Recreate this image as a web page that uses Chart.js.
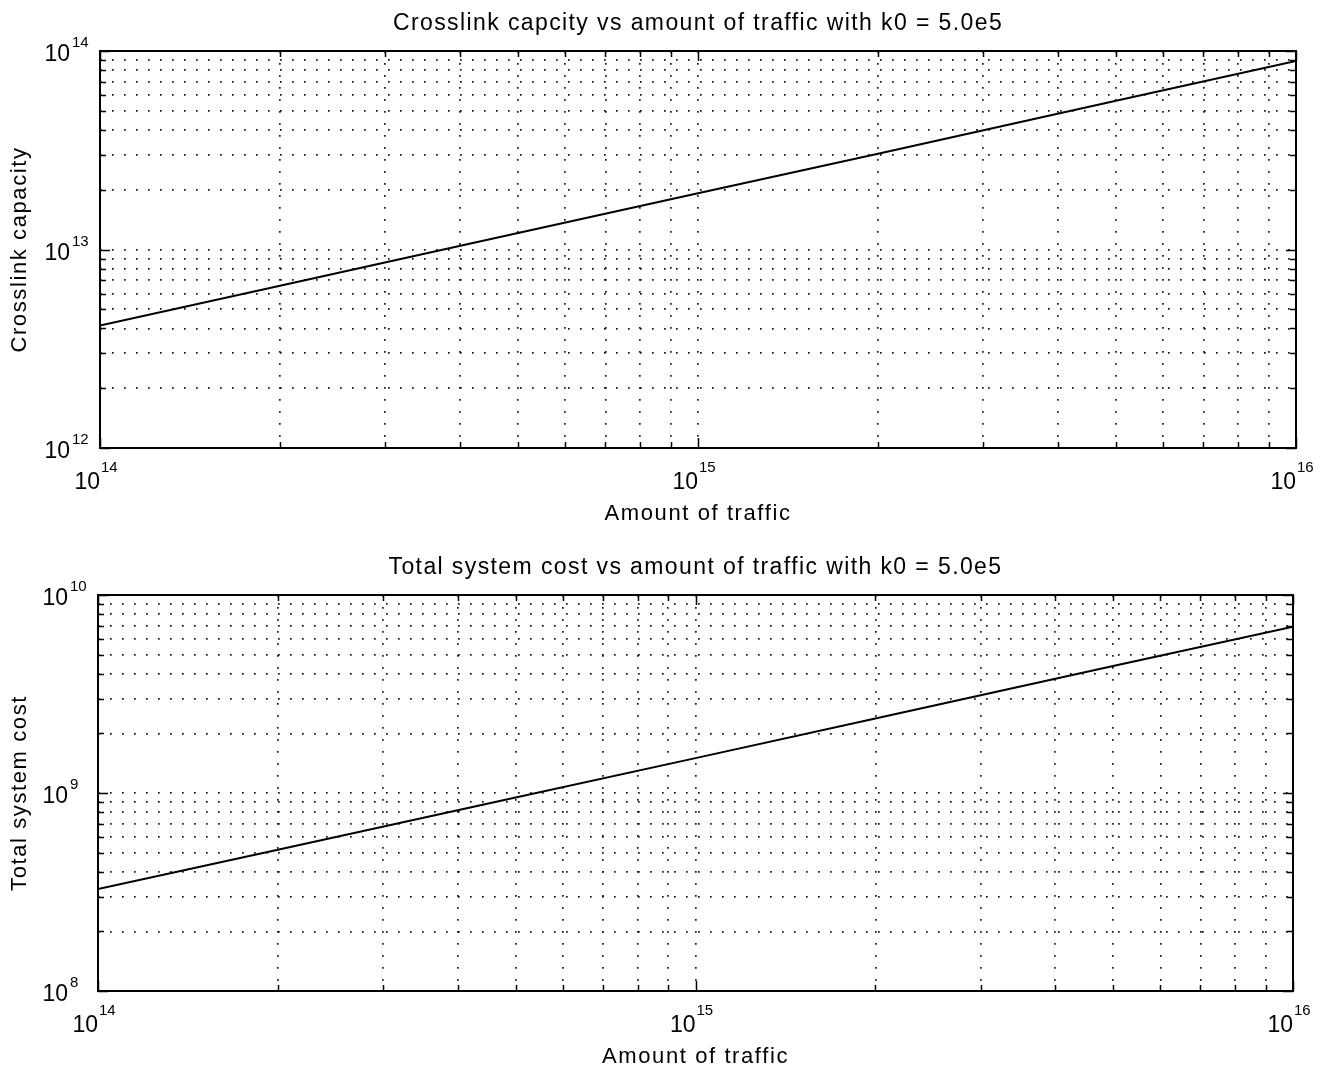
<!DOCTYPE html>
<html>
<head>
<meta charset="utf-8">
<script src="https://cdn.jsdelivr.net/npm/chart.js@4.4.1/dist/chart.umd.min.js"></script>
<style>
  html, body { margin: 0; padding: 0; background: #ffffff; }
  #wrap { position: relative; width: 1336px; height: 1072px; }
  .panel { position: absolute; left: 0; width: 1336px; height: 536px; }
</style>
</head>
<body>
<div id="wrap">
  <div class="panel" style="top:0px"><canvas id="capacityChart"></canvas></div>
  <div class="panel" style="top:536px"><canvas id="costChart"></canvas></div>
</div>
<script>
// Traffic sweep and the two computed quantities (k0 = 5.0e5)
const traffic = [1e14, 2e14, 5e14, 1e15, 2e15, 5e15, 1e16];
const crosslinkCapacity = [4.14e12, 6.56e12, 1.21e13, 1.92e13, 3.04e13, 5.61e13, 8.9e13];
const totalSystemCost = [3.27e8, 5.17e8, 9.5e8, 1.5e9, 2.38e9, 4.38e9, 6.92e9];

// Decade exponents used for the axis labels
const trafficTickExponents = [14, 15, 16];
const capacityTickExponents = [12, 13, 14];
const costTickExponents = [8, 9, 10];

const FONT = '"Liberation Sans", Arial, Helvetica, sans-serif';
const INK = '#000000';

// 1..9 x 10^e for every decade, plus the last decade itself
function decadeTicks(exps) {
  const out = [];
  for (let i = 0; i < exps.length - 1; i++) {
    for (let m = 1; m <= 9; m++) out.push({ value: m * Math.pow(10, exps[i]), major: m === 1 });
  }
  out.push({ value: Math.pow(10, exps[exps.length - 1]), major: true });
  return out;
}

function spacedText(ctx, text, x, y, align, spacing) {
  ctx.save();
  if ('letterSpacing' in ctx) ctx.letterSpacing = spacing + 'px';
  ctx.textAlign = align;
  ctx.fillText(text, x, y);
  ctx.restore();
}

// Frame, inward tick marks and all text (titles, axis labels, 10^n ticks)
const decorations = {
  id: 'decorations',
  afterDraw(chart, args, opts) {
    const { ctx, chartArea: a, scales } = chart;
    const xs = scales.x, ys = scales.y;
    ctx.save();
    ctx.strokeStyle = INK;
    ctx.fillStyle = INK;

    // inward ticks on all four sides
    ctx.lineWidth = 1.5;
    ctx.beginPath();
    xs.ticks.forEach(t => {
      const px = Math.round(xs.getPixelForValue(t.value)) + 0.5;
      const len = t.major ? 10 : 6;
      ctx.moveTo(px, a.bottom); ctx.lineTo(px, a.bottom - len);
      ctx.moveTo(px, a.top); ctx.lineTo(px, a.top + len);
    });
    ys.ticks.forEach(t => {
      const py = Math.round(ys.getPixelForValue(t.value)) + 0.5;
      const len = t.major ? 10 : 6;
      ctx.moveTo(a.left, py); ctx.lineTo(a.left + len, py);
      ctx.moveTo(a.right, py); ctx.lineTo(a.right - len, py);
    });
    ctx.stroke();

    // box
    ctx.lineWidth = 2;
    ctx.strokeRect(a.left, a.top, a.right - a.left, a.bottom - a.top);

    // x tick labels: "10" ending at the tick, exponent just after it
    ctx.textBaseline = 'alphabetic';
    opts.xExps.forEach(e => {
      const px = xs.getPixelForValue(Math.pow(10, e));
      ctx.font = '23px ' + FONT;
      spacedText(ctx, '10', px, a.bottom + 41, 'right', 0);
      ctx.font = '15px ' + FONT;
      spacedText(ctx, String(e), px + 1, a.bottom + 24, 'left', 0);
    });
    // y tick labels
    opts.yExps.forEach(e => {
      const py = ys.getPixelForValue(Math.pow(10, e));
      ctx.font = '23px ' + FONT;
      spacedText(ctx, '10', a.left - 30, py + 10, 'right', 0);
      ctx.font = '15px ' + FONT;
      spacedText(ctx, String(e), a.left - 28, py - 4, 'left', 0);
    });

    const cx = (a.left + a.right) / 2;
    const cy = (a.top + a.bottom) / 2;
    ctx.font = '23px ' + FONT;
    spacedText(ctx, opts.title, cx, a.top - 21, 'center', 1.4);
    ctx.font = '22px ' + FONT;
    spacedText(ctx, opts.xTitle, cx, a.bottom + 72, 'center', 1.6);

    ctx.save();
    ctx.translate(opts.yTitleX, cy);
    ctx.rotate(-Math.PI / 2);
    spacedText(ctx, opts.yTitle, 0, 0, 'center', 1.6);
    ctx.restore();

    ctx.restore();
  }
};

function logAxis(exps) {
  return {
    type: 'logarithmic',
    min: Math.pow(10, exps[0]),
    max: Math.pow(10, exps[exps.length - 1]),
    afterBuildTicks(scale) { scale.ticks = decadeTicks(exps); },
    ticks: { display: false },
    grid: { color: '#1a1a1a', lineWidth: 1.7, drawTicks: false },
    border: { display: false, dash: [1.7, 10.3] }
  };
}

function makeChart(id, values, yExps, padding, texts) {
  return new Chart(document.getElementById(id), {
    type: 'scatter',
    data: {
      datasets: [{
        data: traffic.map((t, i) => ({ x: t, y: values[i] })),
        showLine: true,
        borderColor: INK,
        borderWidth: 2,
        pointRadius: 0,
        tension: 0
      }]
    },
    options: {
      responsive: true,
      maintainAspectRatio: false,
      animation: false,
      layout: { padding },
      plugins: {
        legend: { display: false },
        tooltip: { enabled: false },
        title: { display: false },
        decorations: Object.assign({ xExps: trafficTickExponents, yExps: yExps }, texts)
      },
      scales: {
        x: logAxis(trafficTickExponents),
        y: logAxis(yExps)
      }
    },
    plugins: [decorations]
  });
}

makeChart('capacityChart', crosslinkCapacity, capacityTickExponents,
  { left: 100, right: 40, top: 51, bottom: 88 },
  {
    title: 'Crosslink capcity vs amount of traffic with k0 = 5.0e5',
    xTitle: 'Amount of traffic',
    yTitle: 'Crosslink capacity',
    yTitleX: 26
  });

makeChart('costChart', totalSystemCost, costTickExponents,
  { left: 98, right: 43, top: 59, bottom: 81 },
  {
    title: 'Total system cost vs amount of traffic with k0 = 5.0e5',
    xTitle: 'Amount of traffic',
    yTitle: 'Total system cost',
    yTitleX: 26
  });
</script>
</body>
</html>
